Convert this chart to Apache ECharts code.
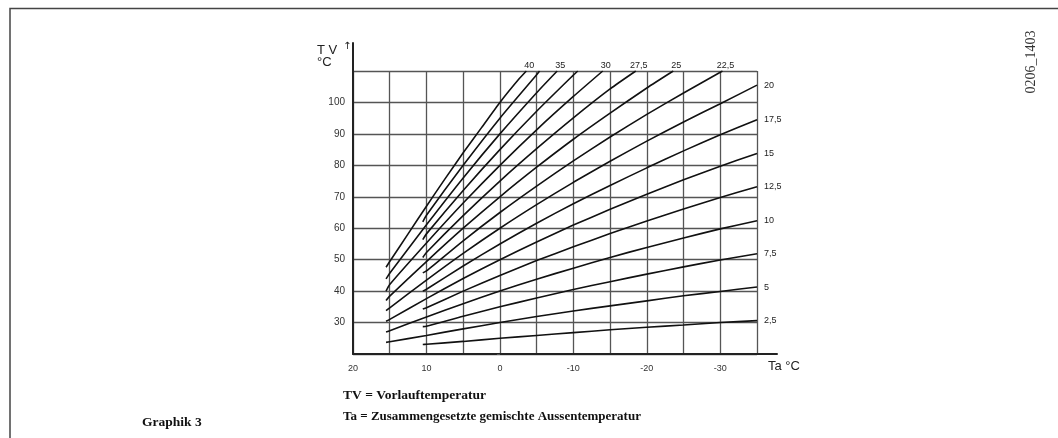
<!DOCTYPE html>
<html>
<head>
<meta charset="utf-8">
<script src="https://cdn.jsdelivr.net/npm/echarts@6/dist/echarts.min.js"></script>
<style>
  html, body { margin: 0; padding: 0; background: #fff; }
  #chart { width: 1058px; height: 438px; }
</style>
</head>
<body>
<div id="chart"></div>
<script>
// Heizkurven: Ta (x) -> TV (y)
const c40  = [[15.5,47.6],[15,49.4],[12.5,58.2],[10,67.0],[7.5,75.6],[5,84.0],[2.5,92.0],[0,100.0],[-2.5,107.2],[-3.6,110]]
const c375 = [[10.5,62.0],[10,64.1],[5,80.0],[0,95.0],[-5,108.8],[-5.4,110]]
const c35  = [[15.5,43.9],[15,45.7],[10,61.1],[5,76.0],[0,90.0],[-5,103.1],[-7.8,110]]
const c325 = [[10.5,56.4],[10,58.2],[5,72.0],[0,85.0],[-5,97.2],[-10,108.7],[-10.6,110]]
const c30  = [[15.5,40.0],[15,42.1],[10,55.3],[5,68.0],[0,80.0],[-5,91.3],[-10,101.9],[-14.0,110]]
const c275 = [[10.5,50.7],[10,52.3],[5,64.0],[0,75.0],[-5,85.3],[-10,95.1],[-15,104.3],[-18.5,110]]
const c25  = [[15.5,37.0],[15,38.4],[10,49.4],[5,60.0],[0,70.0],[-5,79.4],[-10,88.3],[-15,96.6],[-20,104.6],[-23.6,110]]
const c225 = [[10.5,45.8],[10,46.4],[5,56.0],[0,65.0],[-5,73.4],[-10,81.4],[-15,89.0],[-20,96.2],[-25,103.0],[-30.3,110]]
const c20  = [[15.5,33.8],[15,34.7],[10,43.5],[5,52.0],[0,60.0],[-5,67.5],[-10,74.6],[-15,81.3],[-20,87.7],[-25,93.8],[-30,99.6],[-35,105.5]]
const c175 = [[10.5,40.0],[10,40.6],[5,48.0],[0,55.0],[-5,61.6],[-10,67.8],[-15,73.6],[-20,79.2],[-25,84.6],[-30,89.7],[-35,94.5]]
const c15  = [[15.5,30.4],[15,31.0],[10,37.6],[5,44.0],[0,50.0],[-5,55.6],[-10,61.0],[-15,66.0],[-20,70.8],[-25,75.4],[-30,79.7],[-35,83.8]]
const c125 = [[10.5,34.3],[10,34.7],[5,40.0],[0,45.0],[-5,49.7],[-10,54.1],[-15,58.3],[-20,62.3],[-25,66.1],[-30,69.8],[-35,73.2]]
const c10  = [[15.5,27.0],[15,27.4],[10,31.8],[5,36.0],[0,40.0],[-5,43.8],[-10,47.3],[-15,50.7],[-20,53.9],[-25,56.9],[-30,59.8],[-35,62.4]]
const c75  = [[10.5,28.7],[10,28.8],[5,32.0],[0,35.0],[-5,37.8],[-10,40.5],[-15,43.0],[-20,45.4],[-25,47.7],[-30,49.9],[-35,51.9]]
const c5   = [[15.5,23.7],[15,23.9],[10,25.9],[5,28.0],[0,30.0],[-5,31.9],[-10,33.7],[-15,35.3],[-20,36.9],[-25,38.5],[-30,39.9],[-35,41.3]]
const c25b = [[10.5,23.0],[10,23.1],[5,24.0],[0,25.0],[-5,25.9],[-10,26.8],[-15,27.7],[-20,28.5],[-25,29.2],[-30,30.0],[-35,30.6]]

const curves = [c40, c375, c35, c325, c30, c275, c25, c225, c20, c175, c15, c125, c10, c75, c5, c25b]
const curveLabels = ['40', '', '35', '', '30', '27,5', '25', '22,5', '20', '17,5', '15', '12,5', '10', '7,5', '5', '2,5']

const xTicks = [20, 10, 0, -10, -20, -30]
const yTicks = [30, 40, 50, 60, 70, 80, 90, 100]

const chart = echarts.init(document.getElementById('chart'))

const series = curves.map((pts, i) => {
  const data = pts.map(p => ({ value: p }))
  const last = data[data.length - 1]
  if (curveLabels[i]) {
    const atTop = last.value[0] > -35
    last.label = {
      show: true,
      formatter: curveLabels[i],
      position: atTop ? 'top' : 'right',
      distance: atTop ? 1 : 7,
      offset: atTop ? [3, 0] : [0, 0],
      fontSize: 9,
      color: '#222',
      fontFamily: 'Liberation Sans'
    }
  }
  return {
    type: 'line',
    xAxisIndex: 0,
    yAxisIndex: 0,
    data: data,
    smooth: 0.2,
    symbol: 'circle',
    symbolSize: 0,
    showSymbol: true,
    label: { show: false },
    lineStyle: { color: '#111', width: 1.6 },
    silent: true,
    z: 3
  }
})

chart.setOption({
  animation: false,
  grid: [
    { left: 353, right: 301, top: 71, bottom: 84 },
    // only for the longer axis lines
    { left: 353, right: 281, top: 43, bottom: 84 }
  ],
  xAxis: [{
    gridIndex: 0,
    type: 'value',
    min: -35,
    max: 20,
    interval: 5,
    inverse: true,
    axisLine: { show: false },
    axisTick: { show: false },
    axisLabel: {
      margin: 10,
      fontSize: 9,
      color: '#333',
      fontFamily: 'Liberation Sans',
      formatter: v => xTicks.indexOf(v) >= 0 ? String(v) : ''
    },
    splitLine: { show: true, lineStyle: { color: '#555', width: 1.3 } }
  }, {
    gridIndex: 1,
    type: 'value',
    min: -37.5,
    max: 20,
    inverse: true,
    axisLine: { show: true, onZero: false, lineStyle: { color: '#222', width: 2 } },
    axisTick: { show: false },
    axisLabel: { show: false },
    splitLine: { show: false }
  }],
  yAxis: [{
    gridIndex: 0,
    type: 'value',
    min: 20,
    max: 110,
    interval: 10,
    axisLine: { show: false },
    axisTick: { show: true, length: 3, lineStyle: { color: '#555' } },
    axisLabel: {
      margin: 8,
      fontSize: 10,
      color: '#333',
      fontFamily: 'Liberation Sans',
      formatter: v => yTicks.indexOf(v) >= 0 ? String(v) : ''
    },
    splitLine: { show: true, lineStyle: { color: '#555', width: 1.3 } }
  }, {
    gridIndex: 1,
    type: 'value',
    min: 20,
    max: 118.8,
    axisLine: { show: true, onZero: false, lineStyle: { color: '#222', width: 2 } },
    axisTick: { show: false },
    axisLabel: { show: false },
    splitLine: { show: false }
  }],
  series: series,
  graphic: [
    { type: 'polyline', shape: { points: [[10, 438], [10, 8.5], [1058, 8.5]] },
      style: { stroke: '#444', lineWidth: 1.5, fill: null } },
    { type: 'text', left: 317, top: 44,
      style: { text: 'T V\n°C', font: '13px "Liberation Sans"', fill: '#222', lineHeight: 12 } },
    { type: 'text', left: 343, top: 41,
      style: { text: '↑', font: '10px "DejaVu Sans"', fill: '#222' } },
    { type: 'text', left: 768, top: 360,
      style: { text: 'Ta °C', font: '13px "Liberation Sans"', fill: '#222' } },
    { type: 'text', left: 343, top: 389,
      style: { text: 'TV = Vorlauftemperatur', font: 'bold 13.5px "Liberation Serif"', fill: '#111' } },
    { type: 'text', left: 343, top: 410,
      style: { text: 'Ta = Zusammengesetzte gemischte Aussentemperatur', font: 'bold 13px "Liberation Serif"', fill: '#111' } },
    { type: 'text', left: 142, top: 416,
      style: { text: 'Graphik 3', font: 'bold 13.5px "Liberation Serif"', fill: '#111' } },
    { type: 'text', x: 1031, y: 62, rotation: Math.PI / 2,
      style: { text: '0206_1403', font: '14px "Liberation Serif"', fill: '#333', align: 'center', verticalAlign: 'middle' } }
  ]
})
</script>
</body>
</html>
